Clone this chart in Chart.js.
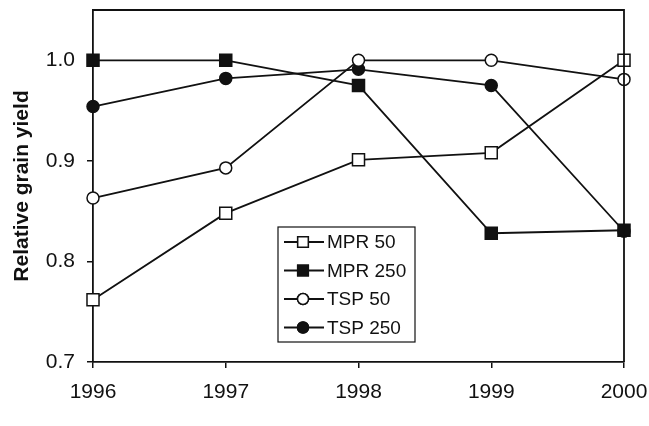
<!DOCTYPE html>
<html lang="en">
<head>
    <meta charset="UTF-8">
    <title>Relative grain yield</title>
    <script src="https://cdn.jsdelivr.net/npm/chart.js"></script>
    <style>
        body { margin: 0; background: #fff; }
        #wrap { width: 649px; height: 426px; }
    </style>
</head>
<body>
    <div id="wrap"><canvas id="yield-chart"></canvas></div>

    <script>
        // values
        const years = ['1996', '1997', '1998', '1999', '2000'];
        const mpr50 = [0.762, 0.848, 0.901, 0.908, 1.0];
        const mpr250 = [1.0, 1.0, 0.975, 0.828, 0.831];
        const tsp50 = [0.863, 0.893, 1.0, 1.0, 0.981];
        const tsp250 = [0.954, 0.982, 0.991, 0.975, 0.830];
        const yTicks = [0.7, 0.8, 0.9, 1.0];

        const font = 'Liberation Sans, Arial, sans-serif';

        function series(label, data, style, filled) {
            return {
                label: label,
                data: data,
                borderColor: '#111',
                borderWidth: 1.8,
                pointStyle: style,
                pointRadius: style === 'rect' ? 8.5 : 6,
                pointBorderWidth: 1.5,
                pointBorderColor: '#111',
                pointBackgroundColor: filled ? '#111' : '#fff',
                tension: 0
            };
        }

        // box round the plot plus the legend inside it
        const framePlugin = {
            id: 'frame',
            afterDraw(chart) {
                const ctx = chart.ctx;
                const a = chart.chartArea;
                ctx.save();
                ctx.strokeStyle = '#111';
                ctx.lineWidth = 1.8;
                ctx.beginPath();
                ctx.moveTo(a.left, a.top);
                ctx.lineTo(a.right, a.top);
                ctx.lineTo(a.right, a.bottom);
                ctx.stroke();

                // legend
                const bx = 278, by = 227, bw = 137, bh = 115;
                ctx.fillStyle = '#fff';
                ctx.fillRect(bx, by, bw, bh);
                ctx.lineWidth = 1.2;
                ctx.strokeRect(bx, by, bw, bh);
                chart.data.datasets.forEach((ds, i) => {
                    const y = by + 15 + i * 28.5;
                    ctx.lineWidth = 1.8;
                    ctx.strokeStyle = '#111';
                    ctx.beginPath();
                    ctx.moveTo(bx + 6, y);
                    ctx.lineTo(bx + 46, y);
                    ctx.stroke();
                    ctx.fillStyle = ds.pointBackgroundColor;
                    ctx.lineWidth = 1.5;
                    Chart.helpers.drawPoint(ctx, {
                        pointStyle: ds.pointStyle,
                        radius: ds.pointStyle === 'rect' ? 7.5 : 5.5,
                        borderWidth: 1.5
                    }, bx + 25, y);
                    ctx.fill();
                    ctx.stroke();
                    ctx.fillStyle = '#111';
                    ctx.font = '19px ' + font;
                    ctx.textBaseline = 'middle';
                    ctx.textAlign = 'left';
                    ctx.fillText(ds.label, bx + 49, y + 1);
                });
                ctx.restore();
            }
        };

        const ctx = document.getElementById('yield-chart').getContext('2d');
        new Chart(ctx, {
            type: 'line',
            data: {
                labels: years,
                datasets: [
                    series('MPR 50', mpr50, 'rect', false),
                    series('MPR 250', mpr250, 'rect', true),
                    series('TSP 50', tsp50, 'circle', false),
                    series('TSP 250', tsp250, 'circle', true)
                ]
            },
            options: {
                responsive: true,
                maintainAspectRatio: false,
                animation: false,
                layout: { padding: { top: 10, right: 25, left: 0, bottom: 0 } },
                plugins: {
                    legend: { display: false },
                    tooltip: { enabled: false }
                },
                scales: {
                    x: {
                        offset: false,
                        grid: {
                            drawOnChartArea: false,
                            drawTicks: true,
                            tickLength: 6,
                            color: '#111',
                            lineWidth: 1.5
                        },
                        border: { color: '#111', width: 1.8 },
                        ticks: {
                            color: '#111',
                            font: { family: font, size: 21 },
                            padding: 12,
                            maxRotation: 0
                        },
                        afterFit(scale) {
                            scale.height = 64;
                            scale.paddingLeft = 0;
                            scale.paddingRight = 0;
                        }
                    },
                    y: {
                        min: 0.7,
                        max: 1.05,
                        afterBuildTicks(scale) {
                            scale.ticks = yTicks.map(v => ({ value: v }));
                        },
                        grid: {
                            drawOnChartArea: false,
                            drawTicks: true,
                            tickLength: 6,
                            color: '#111',
                            lineWidth: 1.5
                        },
                        border: { color: '#111', width: 1.8 },
                        ticks: {
                            color: '#111',
                            font: { family: font, size: 21 },
                            padding: 12,
                            callback: v => v.toFixed(1)
                        },
                        title: {
                            display: true,
                            text: 'Relative grain yield',
                            color: '#111',
                            font: { family: font, size: 21, weight: 'bold' },
                            padding: { top: 10, bottom: 2 }
                        },
                        afterFit(scale) {
                            scale.width = 93;
                            scale.paddingTop = 0;
                            scale.paddingBottom = 0;
                        }
                    }
                }
            },
            plugins: [framePlugin]
        });
    </script>
</body>
</html>
